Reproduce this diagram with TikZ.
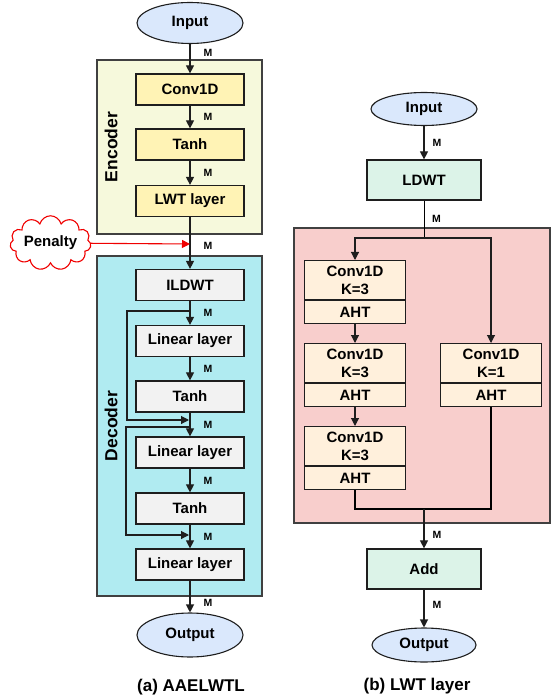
\documentclass[tikz,border=0pt]{standalone}
\usepackage{fontspec}
\setmainfont{Liberation Sans}
\usetikzlibrary{arrows.meta,positioning,calc,shapes.geometric,shapes.symbols}
\definecolor{ink}{RGB}{30,30,30}
\definecolor{ioblue}{RGB}{218,232,252}
\definecolor{encbg}{RGB}{246,249,220}
\definecolor{encblk}{RGB}{255,243,181}
\definecolor{decbg}{RGB}{176,235,241}
\definecolor{decblk}{RGB}{242,242,242}
\definecolor{wavblk}{RGB}{220,243,232}
\definecolor{lwtbg}{RGB}{248,206,204}
\definecolor{lwtblk}{RGB}{255,240,220}
\definecolor{penred}{RGB}{240,0,0}
\tikzset{
  blk/.style={draw=ink,line width=1.2pt,fill=#1,minimum width=108pt,minimum height=31pt,
              inner sep=0pt,font=\fontsize{15}{18}\selectfont\bfseries},
  cblk/.style={draw=ink,line width=1.2pt,fill=lwtblk,minimum width=101pt,inner sep=0pt,
               align=center,font=\fontsize{15}{18}\selectfont\bfseries},
  io/.style={ellipse,draw=ink,line width=1.1pt,fill=ioblue,inner sep=0pt,
             minimum width=106pt,font=\fontsize{15}{18}\selectfont\bfseries},
  grp/.style={draw=ink!85,line width=1.2pt,fill=#1,inner sep=0pt},
  ar/.style={-{Triangle[length=8pt,width=8pt]},draw=ink,line width=1.1pt},
  mlab/.style={font=\fontsize{10.5}{12}\selectfont\bfseries,anchor=west,inner sep=0pt,xshift=#1},
  mlab/.default=13pt,
  glab/.style={rotate=90,font=\fontsize{17.5}{20}\selectfont\bfseries},
  capt/.style={font=\fontsize{17}{20}\selectfont\bfseries},
}
\newcommand{\convblk}[4]{%
  \node[cblk,minimum height=38.5pt,anchor=north] (#1) at (#2,#3) {Conv1D\\K=#4};
  \node[cblk,minimum height=23.5pt,anchor=north] (#1a) at (#1.south) {AHT};}

\begin{document}
\begin{tikzpicture}[x=1pt,y=-1pt]
  \useasboundingbox (0,0) rectangle (553,700);
  % (a) AAELWTL
  \node[grp=encbg,minimum width=165pt,minimum height=174pt] (enc) at (179.5,147) {};
  \node[grp=decbg,minimum width=165pt,minimum height=340pt] (dec) at (179.5,426) {};
  \node[glab] (enclab) at (111,147) {Encoder};
  \node[glab] (declab) at (111,426) {Decoder};
  \node[io,minimum height=41pt] (in1) at (190,23) {Input};
  \node[blk=encblk] (conv) at (190,89.5) {Conv1D};
  \node[blk=encblk] (tanh1) at (190,144.5) {Tanh};
  \node[blk=encblk] (lwt) at (190,201) {LWT layer};
  \node[blk=decblk] (ildwt) at (190,285) {ILDWT};
  \node[blk=decblk] (lin1) at (190,341) {Linear layer};
  \node[blk=decblk] (tanh2) at (190,396.5) {Tanh};
  \node[blk=decblk] (lin2) at (190,452.5) {Linear layer};
  \node[blk=decblk] (tanh3) at (190,508.5) {Tanh};
  \node[blk=decblk] (lin3) at (190,564.5) {Linear layer};
  \node[io,minimum height=44pt] (out1) at (190,635) {Output};
  \node[cloud,cloud puffs=11,aspect=1.9,draw=penred,line width=1.1pt,fill=white,
        minimum width=75pt,minimum height=41pt,inner sep=0pt,
        font=\fontsize{15}{18}\selectfont\bfseries] (pen) at (50.5,243) {Penalty};
  \coordinate (pj) at (190,244);
  \coordinate (s1) at (190,311);
  \coordinate (s1e) at (189,420);
  \coordinate (s2) at (190,427);
  \coordinate (s2e) at (189,535);
  \draw[ar] (in1) -- (conv) node[mlab,pos=0.3] {M};
  \draw[ar] (conv) -- (tanh1) node[mlab,midway] {M};
  \draw[ar] (tanh1) -- (lwt) node[mlab,midway] {M};
  \draw[ar] (lwt) -- (ildwt) node[mlab,pos=0.55] {M};
  \draw[ar,draw=penred,-{Triangle[length=8pt,width=8pt,fill=penred]}] (pen) -- (pj);
  \draw[ar] (ildwt) -- (lin1) node[mlab,midway] {M};
  \draw[ar] (lin1) -- (tanh2) node[mlab,midway] {M};
  \draw[ar] (tanh2) -- (lin2) node[mlab,midway] {M};
  \draw[ar] (lin2) -- (tanh3) node[mlab,midway] {M};
  \draw[ar] (tanh3) -- (lin3) node[mlab,midway] {M};
  \draw[ar] (lin3) -- (out1) node[mlab,pos=0.7] {M};
  \draw[ar] (s1) -- ++(-63,0) |- (s1e);
  \draw[ar] (s2) -- ++(-64,0) |- (s2e);
  \node[capt] (capa) at (191,687) {(a) AAELWTL};
  % (b) LWT layer
  \node[grp=lwtbg,minimum width=256pt,minimum height=295pt] (lwtg) at (422,375.5) {};
  \node[io,minimum height=33pt] (in2) at (424,109) {Input};
  \node[blk=wavblk,minimum width=114pt,minimum height=40pt] (ldwt) at (424,180) {LDWT};
  \convblk{c1}{355}{260}{3}
  \convblk{c2}{355}{343}{3}
  \convblk{c3}{355}{426}{3}
  \convblk{c4}{491}{343}{1}
  \node[blk=wavblk,minimum width=114pt,minimum height=40pt] (add) at (424,569) {Add};
  \node[io,minimum width=104pt,minimum height=34pt] (out2) at (424,645) {Output};
  \coordinate (sj) at (424,238);
  \coordinate (mj) at (424,509);
  \draw[ar] (in2) -- (ldwt) node[mlab=8pt,midway] {M};
  \draw (ldwt) -- (sj) node[mlab=8pt,midway] {M};
  \draw[ar] (sj) -| (c1);
  \draw[ar] (sj) -| (c4);
  \draw[ar] (c1a) -- (c2);
  \draw[ar] (c2a) -- (c3);
  \draw[line width=1.1pt] (c3a) |- (mj) -| (c4a);
  \draw[ar] (mj) -- (add) node[mlab=8pt,pos=0.65] {M};
  \draw[ar] (add) -- (out2) node[mlab=8pt,pos=0.4] {M};
  \node[capt] (capb) at (417,686) {(b) LWT layer};
\end{tikzpicture}
\end{document}
